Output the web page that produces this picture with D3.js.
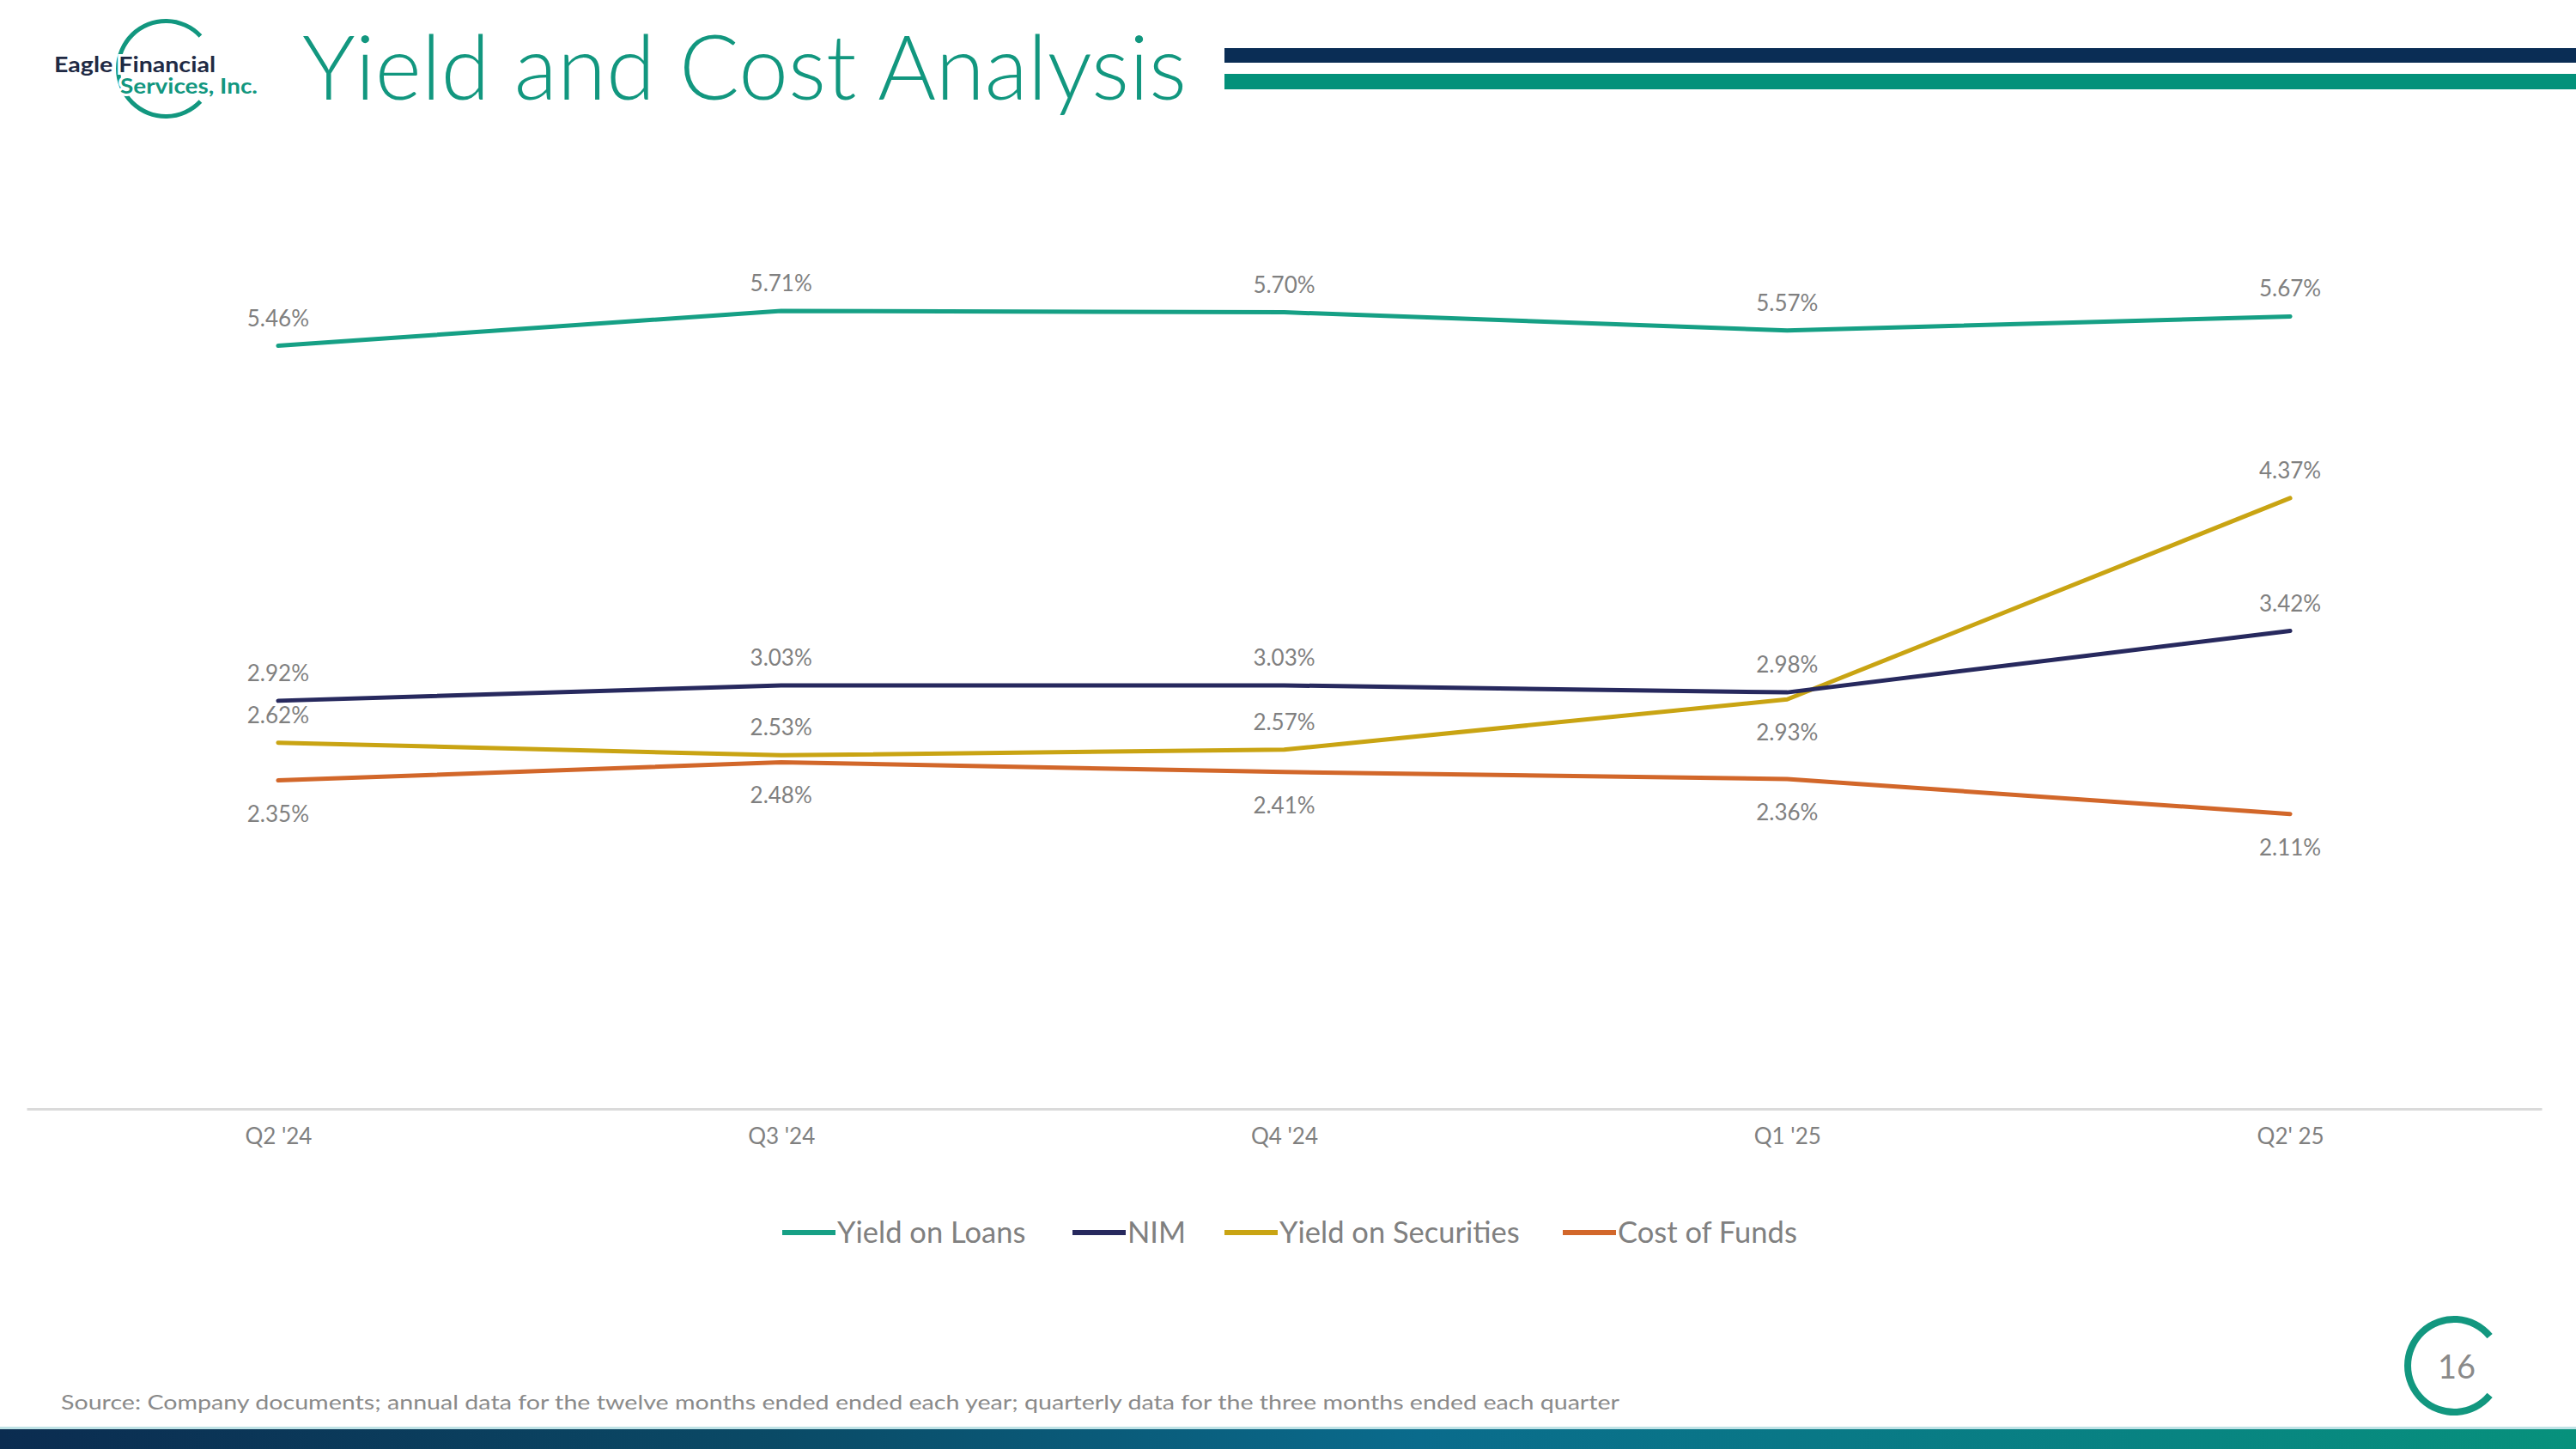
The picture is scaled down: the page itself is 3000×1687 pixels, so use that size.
<!DOCTYPE html>
<html>
<head>
<meta charset="utf-8">
<script src="https://cdn.jsdelivr.net/npm/d3@7/dist/d3.min.js"></script>
<style>
  html, body { margin: 0; padding: 0; background: #fff; }
  svg { display: block; font-family: Lato, 'Open Sans', sans-serif; }
</style>
</head>
<body>
<svg id="chart" width="3000" height="1687"></svg>
<script>
var QUARTERS = ["Q2 '24", "Q3 '24", "Q4 '24", "Q1 '25", "Q2' 25"];
var SERIES_NAMES = ['Yield on Loans', 'NIM', 'Yield on Securities', 'Cost of Funds'];
var SERIES_COLORS = ['#16a085', '#27295e', '#c9a413', '#d2672a'];

var YIELD_ON_LOANS = [5.46, 5.71, 5.70, 5.57, 5.67];
var NIM = [2.92, 3.03, 3.03, 2.98, 3.42];
var YIELD_ON_SECURITIES = [2.62, 2.53, 2.57, 2.93, 4.37];
var COST_OF_FUNDS = [2.35, 2.48, 2.41, 2.36, 2.11];

// where each data label sits: 1 = above the point, -1 = below
var LABEL_SIDE = [
  [1, 1, 1, 1, 1],
  [1, 1, 1, 1, 1],
  [1, 1, 1, -1, 1],
  [-1, -1, -1, -1, -1]
];

var TITLE = 'Yield and Cost Analysis';
var SOURCE = 'Source: Company documents; annual data for the twelve months ended ended each year; quarterly data for the three months ended each quarter';
var PAGE = '16';

var TEAL = '#12977f';
var NAVY = '#0a2d55';
var GREY = '#808080';

var svg = d3.select('#chart');

// ----- Header ---------------------------------------------------------------
// C-shaped arcs open to the right (d3.arc angles run clockwise from 12 o'clock)
function openArc(r0, r1, halfGap) {
  return d3.arc().innerRadius(r0).outerRadius(r1)
    .startAngle(Math.PI / 2 + halfGap)
    .endAngle(Math.PI * 2.5 - halfGap);
}

var logo = svg.append('g').attr('class', 'logo');
logo.append('path')
  .attr('transform', 'translate(193,80)')
  .attr('d', openArc(53, 58, Math.PI * 0.24))
  .attr('fill', TEAL);
var logoText = logo.append('text')
  .attr('font-size', 25).attr('font-weight', 700)
  .attr('stroke', '#fff').attr('stroke-width', 6)
  .attr('paint-order', 'stroke');
logoText.append('tspan')
  .attr('x', 63).attr('y', 84)
  .attr('fill', '#1f2a44')
  .attr('textLength', 188).attr('lengthAdjust', 'spacingAndGlyphs')
  .text('Eagle Financial');
logoText.append('tspan')
  .attr('x', 140).attr('y', 109)
  .attr('fill', TEAL)
  .attr('textLength', 160).attr('lengthAdjust', 'spacingAndGlyphs')
  .text('Services, Inc.');

svg.append('text')
  .attr('x', 352).attr('y', 116)
  .attr('font-size', 104)
  .attr('font-weight', 300)
  .attr('fill', TEAL)
  .attr('textLength', 1030).attr('lengthAdjust', 'spacingAndGlyphs')
  .text(TITLE);

svg.append('rect').attr('x', 1426).attr('y', 56).attr('width', 1574).attr('height', 17).attr('fill', NAVY);
svg.append('rect').attr('x', 1426).attr('y', 86).attr('width', 1574).attr('height', 18).attr('fill', '#03917a');

// ----- Chart ----------------------------------------------------------------
var x = d3.scalePoint().domain(QUARTERS).range([31, 2960]).padding(0.5);
var y = d3.scaleLinear().domain([0, 7]).range([1291, 152]);

var xAxis = svg.append('g')
  .attr('class', 'x axis')
  .attr('transform', 'translate(0,1291)')
  .call(d3.axisBottom(x).tickSize(0).tickPadding(23));
xAxis.select('.domain').attr('stroke', '#dadada').attr('stroke-width', 3);
xAxis.selectAll('text')
  .attr('font-size', 26)
  .attr('font-family', 'Lato, sans-serif')
  .attr('fill', GREY);

var allSeries = [YIELD_ON_LOANS, NIM, YIELD_ON_SECURITIES, COST_OF_FUNDS];
var data = allSeries.map(function (vals, i) {
  return {
    name: SERIES_NAMES[i],
    color: SERIES_COLORS[i],
    points: vals.map(function (v, j) { return { q: QUARTERS[j], v: v, side: LABEL_SIDE[i][j] }; })
  };
});

var line = d3.line()
  .x(function (d) { return x(d.q); })
  .y(function (d) { return y(d.v); });

var drawOrder = [2, 3, 1, 0];
drawOrder.forEach(function (i) {
  svg.append('path')
    .datum(data[i].points)
    .attr('fill', 'none')
    .attr('stroke', data[i].color)
    .attr('stroke-width', 5)
    .attr('stroke-linejoin', 'round')
    .attr('stroke-linecap', 'round')
    .attr('d', line);
});

data.forEach(function (s) {
  svg.append('g').selectAll('text')
    .data(s.points)
    .enter().append('text')
      .attr('x', function (d) { return x(d.q); })
      .attr('y', function (d) { return y(d.v) + (d.side > 0 ? -23 : 48); })
      .attr('text-anchor', 'middle')
      .attr('font-size', 26)
      .attr('fill', GREY)
      .text(function (d) { return d.v.toFixed(2) + '%'; });
});

// ----- Legend ---------------------------------------------------------------
var legendX = [911, 1249, 1426, 1820];
var legend = svg.append('g').attr('class', 'legend');
data.forEach(function (s, i) {
  var g = legend.append('g').attr('transform', 'translate(' + legendX[i] + ',1435)');
  g.append('line')
    .attr('x1', 0).attr('x2', 62).attr('y1', 0).attr('y2', 0)
    .attr('stroke', s.color).attr('stroke-width', 6);
  g.append('text')
    .attr('x', 64).attr('y', 12)
    .attr('font-size', 34.5)
    .attr('fill', GREY)
    .text(s.name);
});

// ----- Footer ---------------------------------------------------------------
svg.append('text')
  .attr('x', 71).attr('y', 1641)
  .attr('font-size', 24)
  .attr('fill', '#8a8a8a')
  .attr('textLength', 1815).attr('lengthAdjust', 'spacingAndGlyphs')
  .text(SOURCE);

svg.append('path')
  .attr('transform', 'translate(2858,1590)')
  .attr('d', openArc(50, 58, Math.PI * 0.22))
  .attr('fill', TEAL);
svg.append('text')
  .attr('x', 2861).attr('y', 1605)
  .attr('text-anchor', 'middle')
  .attr('font-size', 38)
  .attr('fill', '#8a8a8a')
  .text(PAGE);

var defs = svg.append('defs');
var grad = defs.append('linearGradient').attr('id', 'footerGrad');
grad.append('stop').attr('offset', '0%').attr('stop-color', '#0b2c50');
grad.append('stop').attr('offset', '30%').attr('stop-color', '#0a4a66');
grad.append('stop').attr('offset', '55%').attr('stop-color', '#0a6b8c');
grad.append('stop').attr('offset', '100%').attr('stop-color', '#07917c');
svg.append('rect').attr('x', 0).attr('y', 1661).attr('width', 3000).attr('height', 3).attr('fill', '#bfe3e6');
svg.append('rect').attr('x', 0).attr('y', 1664).attr('width', 3000).attr('height', 23).attr('fill', 'url(#footerGrad)');
</script>
</body>
</html>
